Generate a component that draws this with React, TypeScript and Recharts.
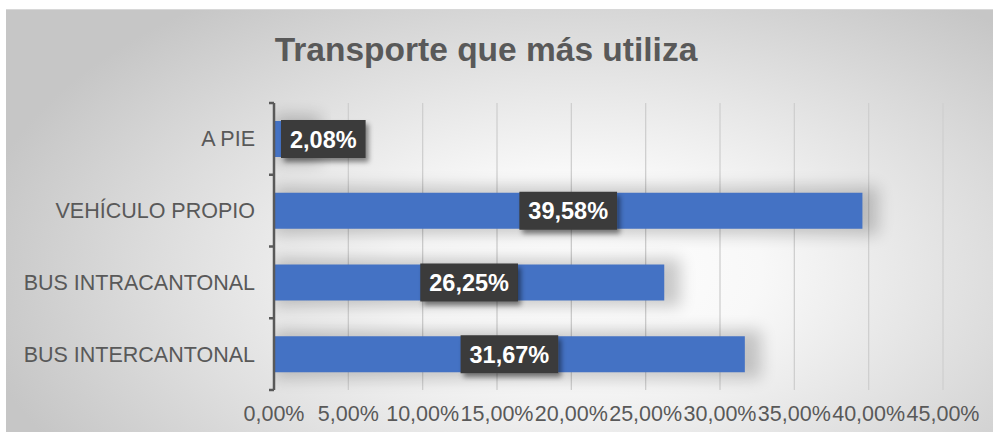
import React from 'react';
import { BarChart, Bar, XAxis, YAxis, CartesianGrid, LabelList } from 'recharts';

const title = 'Transporte que más utiliza';
const categories = ['A PIE', 'VEHÍCULO PROPIO', 'BUS INTRACANTONAL', 'BUS INTERCANTONAL'];
const shares = [2.08, 39.58, 26.25, 31.67];
const xTicks = [0, 5, 10, 15, 20, 25, 30, 35, 40, 45];

const data = categories.map((c, i) => ({ name: c, value: shares[i] }));

const FONT = "'Liberation Sans', Arial, sans-serif";
const BAR_COLOR = '#4472c4';
const AXIS_COLOR = '#595959';
const CAT_MARGIN = 19;
const fmt = (v: number) => v.toFixed(2).replace('.', ',') + '%';

const ValueBox = (props: any) => {
  const { x, y, width, height, value } = props;
  const text = fmt(Number(value));
  const fs = 23.5;
  const tw = [...text].reduce((s, ch) => s + (ch === ',' ? 0.278 : ch === '%' ? 0.889 : 0.556) * fs, 0);
  const bw = tw + 18;
  const bh = 38;
  const cy = Number(y) + Number(height) / 2;
  const bx = Math.max(Number(x) + 7, Number(x) + Number(width) / 2 - bw / 2);
  return (
    <g>
      <rect x={bx} y={cy - bh / 2} width={bw} height={bh} fill="#3a3a3a" filter="url(#boxShadow)" />
      <text x={bx + bw / 2} y={cy + 8.5} textAnchor="middle" fill="#ffffff" fontWeight="bold" fontSize={fs} fontFamily={FONT}>
        {text}
      </text>
    </g>
  );
};

const renderBar = (props: any) => {
  const { x, y, width, height } = props;
  return (
    <g>
      <rect x={x} y={y - 6} width={width + 16} height={height + 12} fill="#000000" opacity={0.2} filter="url(#barGlow)" />
      <rect x={x} y={y} width={width} height={height} fill={BAR_COLOR} />
    </g>
  );
};

const CatTick = (props: any) => {
  const { x, y, payload, index, visibleTicksCount } = props;
  const half = payload && payload.offset ? payload.offset : 0;
  const ax = x + CAT_MARGIN;
  return (
    <g>
      <line x1={ax - 5} x2={ax} y1={y - half} y2={y - half} stroke={AXIS_COLOR} strokeWidth={2.5} />
      {index === visibleTicksCount - 1 && (
        <line x1={ax - 5} x2={ax} y1={y + half} y2={y + half} stroke={AXIS_COLOR} strokeWidth={2.5} />
      )}
      <text x={x} y={y} dy="0.35em" textAnchor="end" fill={AXIS_COLOR} fontSize={21.5} fontFamily={FONT}>
        {payload.value}
      </text>
    </g>
  );
};

export default function App() {
  return (
    <div style={{ position: 'absolute', left: 6, top: 9, width: 987, height: 423, overflow: 'hidden',
      background: 'radial-gradient(ellipse 62% 80% at 58% 62%, #ffffff 0%, #f8f8f8 30%, #dcdcdc 70%, #c6c6c6 100%)',
      boxShadow: 'inset 0 1px 0 #d8d8d8' }}>
      <svg width={0} height={0} style={{ position: 'absolute' }}>
        <defs>
          <filter id="boxShadow" x="-20%" y="-30%" width="150%" height="170%">
            <feDropShadow dx="3" dy="4" stdDeviation="2.5" floodColor="#000" floodOpacity="0.45" />
          </filter>
          <filter id="barGlow" x="-10%" y="-80%" width="130%" height="260%">
            <feGaussianBlur stdDeviation="8" />
          </filter>
        </defs>
      </svg>
      <div style={{ position: 'absolute', left: 480, top: 41, transform: 'translate(-50%, -50%)', whiteSpace: 'nowrap',
        fontFamily: FONT, fontWeight: 'bold', fontSize: 33.5, color: AXIS_COLOR }}>
        {title}
      </div>
      <BarChart width={987} height={423} data={data} layout="vertical"
        margin={{ top: 94, right: 50, bottom: 8, left: 0 }} barSize={36}>
        <CartesianGrid horizontal={false} vertical={true} stroke="#cfcfcf" strokeWidth={1.3} />
        <XAxis type="number" domain={[0, 45]} ticks={xTicks} allowDataOverflow
          tickFormatter={fmt} axisLine={false} tickLine={false} height={34} tickMargin={10}
          interval={0}
          tick={{ fill: AXIS_COLOR, fontSize: 21.5, fontFamily: FONT }} />
        <YAxis type="category" dataKey="name" width={268}
          axisLine={{ stroke: AXIS_COLOR, strokeWidth: 2.5 }} tickLine={false}
          tickSize={0} tickMargin={CAT_MARGIN} interval={0} tick={<CatTick />} />
        <Bar dataKey="value" fill={BAR_COLOR} isAnimationActive={false} shape={renderBar}>
          <LabelList dataKey="value" content={<ValueBox />} />
        </Bar>
      </BarChart>
    </div>
  );
}
